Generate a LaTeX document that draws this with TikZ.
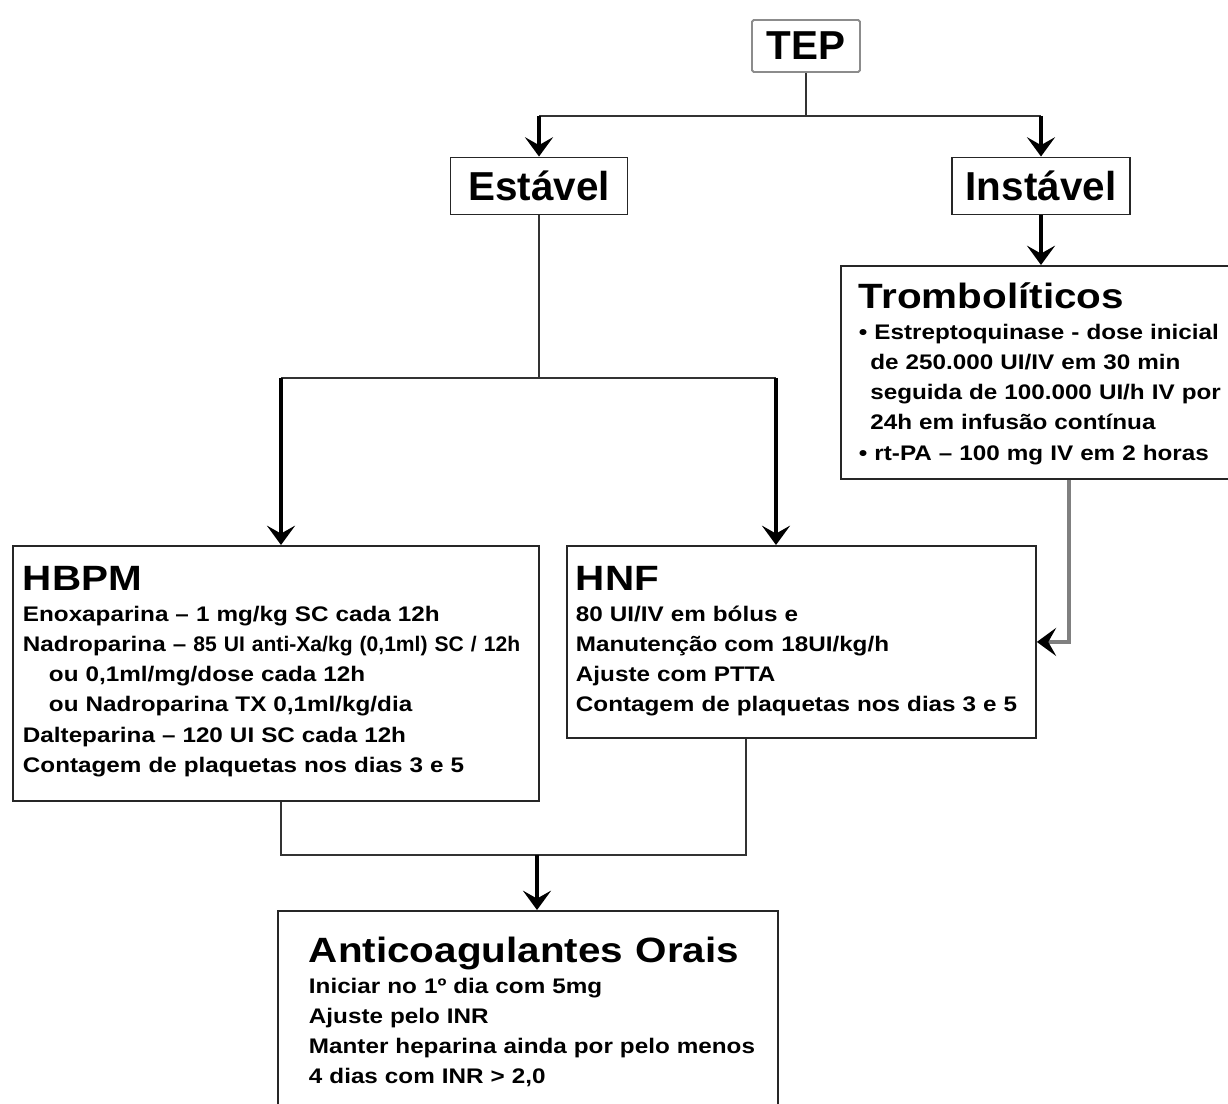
\documentclass[tikz,border=0pt]{standalone}
\usepackage{fontspec}
\setmainfont{Liberation Sans}[FakeStretch=1.15]
\newfontfamily\plainfont{Liberation Sans}
\usepackage{tikz}
\usetikzlibrary{arrows.meta}

\newcommand\bodyfont{\bfseries\fontsize{12}{17.2}\selectfont}
\newcommand\headfont{\fontsize{20}{24}\selectfont}
\newcommand\tagfont{\plainfont\bfseries\fontsize{23}{27}\selectfont}

\tikzset{
  box/.style={draw=black!85, line width=1.1pt, anchor=north west, inner ysep=0pt, align=left, font=\bodyfont},
  tag/.style={draw=black!85, line width=1.1pt, font=\tagfont, minimum height=1.14cm},
  link/.style={draw=black!80, line width=1.1pt},
  arr/.style={line width=2.5pt, -{Stealth[length=11pt,width=16pt,inset=4.5pt]}},
  feed/.style={draw=black!50, line width=2pt, -{Stealth[black,length=11pt,width=16pt,inset=4.5pt]}}
}

\begin{document}
\begin{tikzpicture}[x=0.02cm,y=-0.02cm]
  \useasboundingbox (0,0) rectangle (1228,1104);

  \node[tag, draw=black!45, rounded corners=1pt, minimum width=2.16cm, minimum height=1.04cm] (tep) at (806,46) {TEP};
  \node[tag, minimum width=3.54cm] (estavel) at (539,186) {Estável};
  \node[tag, minimum width=3.56cm] (instavel) at (1041,186) {Instável};

  \node[box, inner xsep=0.36cm, text width=7.12cm, text height=0.86cm, text depth=3.4cm] (tromb) at (840,265) {%
    {\headfont Trombolíticos}\\
    \mbox{\textbullet\ Estreptoquinase - dose inicial}\\
    \hspace*{6.5pt}de 250.000 UI/IV em 30 min\\
    \hspace*{6.5pt}\mbox{seguida de 100.000 UI/h IV por}\\
    \hspace*{6.5pt}24h em infusão contínua\\
    \textbullet\ rt-PA – 100 mg IV em 2 horas};

  \node[box, inner xsep=0.2cm, text width=10.12cm, text height=0.9cm, text depth=4.2cm] (hbpm) at (12,545) {%
    {\headfont HBPM}\\
    Enoxaparina – 1 mg/kg SC cada 12h\\
    \mbox{Nadroparina – {\plainfont 85 UI anti-Xa/kg (0,1ml) SC / 12h}}\\
    \hspace*{14.8pt}ou 0,1ml/mg/dose cada 12h\\
    \hspace*{14.8pt}ou Nadroparina TX 0,1ml/kg/dia\\
    Dalteparina – 120 UI SC cada 12h\\
    Contagem de plaquetas nos dias 3 e 5};

  \node[box, inner xsep=0.18cm, text width=9.02cm, text height=0.9cm, text depth=2.94cm] (hnf) at (566,545) {%
    {\headfont HNF}\\
    80 UI/IV em bólus e\\
    Manutenção com 18UI/kg/h\\
    Ajuste com PTTA\\
    \mbox{Contagem de plaquetas nos dias 3 e 5}};

  \node[box, inner xsep=0.62cm, text width=8.76cm, text height=1.04cm, text depth=3.16cm] (antic) at (277,910) {%
    \mbox{\headfont Anticoagulantes\hspace{3pt} Orais}\\
    Iniciar no 1º dia com 5mg\\
    Ajuste pelo INR\\
    \mbox{Manter heparina ainda por pelo menos}\\
    4 dias com INR > 2,0};

  \coordinate (split1) at (806,116);
  \draw[link] (tep) -- (split1);
  \draw[link] (estavel.north |- split1) -- (instavel.north |- split1);
  \draw[arr] (estavel.north |- split1) -- (estavel);
  \draw[arr] (instavel.north |- split1) -- (instavel);
  \draw[arr] (instavel) -- (instavel.south |- tromb.north);

  \coordinate (split2) at (539,378);
  \coordinate (hbpmin) at (281,378);
  \coordinate (hnfin) at (776,378);
  \draw[link] (estavel) -- (split2);
  \draw[link] (hbpmin) -- (hnfin);
  \draw[arr] (hbpmin) -- (hbpmin |- hbpm.north);
  \draw[arr] (hnfin) -- (hnfin |- hnf.north);

  \coordinate (tx) at (1069,0);
  \draw[feed] (tromb.south -| tx) |- (hnf.east);

  \coordinate (joinl) at (281,855);
  \coordinate (joinr) at (746,855);
  \coordinate (merge) at (537,855);
  \draw[link] (hbpm.south -| joinl) -- (joinl) -- (joinr) -- (hnf.south -| joinr);
  \draw[arr] (merge) -- (merge |- antic.north);
\end{tikzpicture}
\end{document}
